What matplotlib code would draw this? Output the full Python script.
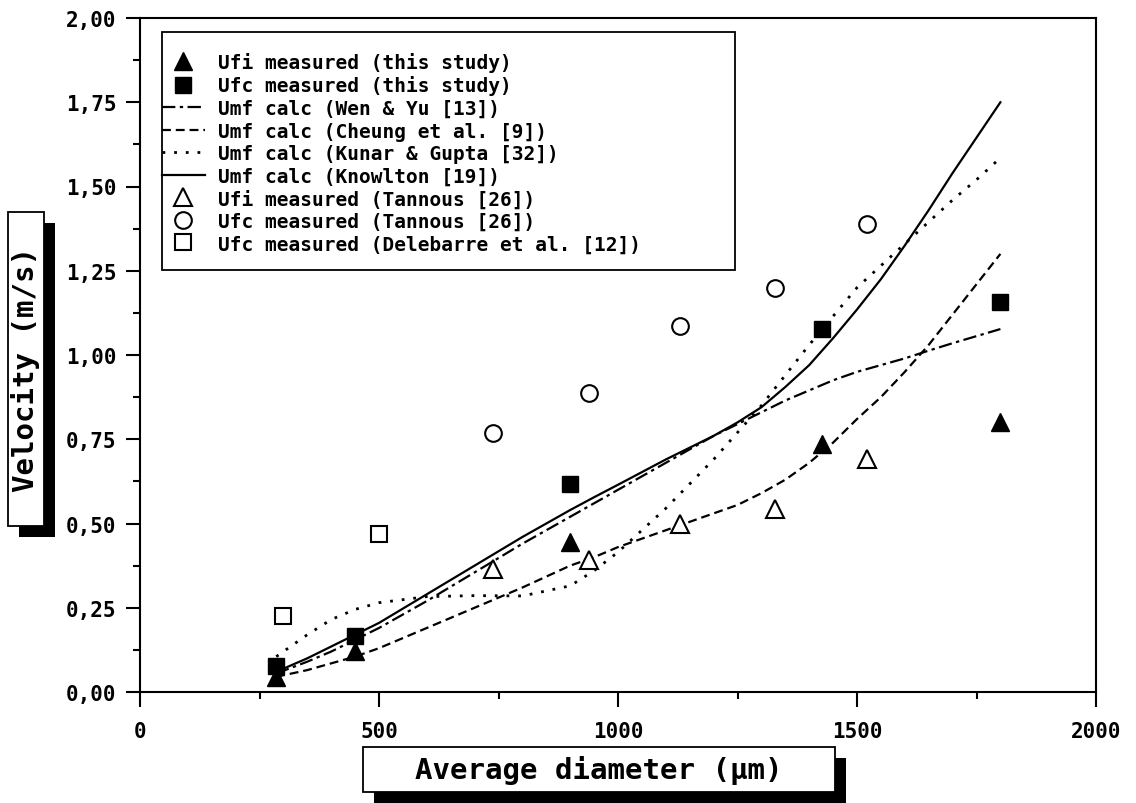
import matplotlib
matplotlib.use("Agg")
import matplotlib.pyplot as plt
from matplotlib.patches import Rectangle
from matplotlib.ticker import MultipleLocator, FuncFormatter

# measured points, this study
d_this = [285, 450, 900, 1427, 1800]
ufi_this = [0.045, 0.122, 0.445, 0.735, 0.80]
ufc_this = [0.077, 0.166, 0.617, 1.077, 1.157]

# Tannous [26]
d_tannous = [738, 940, 1130, 1329, 1520]
ufi_tannous = [0.365, 0.392, 0.50, 0.543, 0.692]
ufc_tannous = [0.768, 0.887, 1.086, 1.199, 1.389]

# Delebarre et al. [12]
d_deleb = [300, 500]
ufc_deleb = [0.227, 0.469]

# calculated Umf curves
d_calc = [285, 350, 400, 450, 500, 600, 700, 800, 900, 950, 1000, 1100,
          1200, 1250, 1300, 1350, 1400, 1450, 1500, 1550, 1600, 1650, 1700, 1750, 1800]
umf_wen_yu = [0.055, 0.09, 0.12, 0.155, 0.19, 0.27, 0.355, 0.44, 0.52, 0.56,
              0.60, 0.68, 0.76, 0.795, 0.83, 0.865, 0.895, 0.925, 0.95, 0.97,
              0.99, 1.013, 1.035, 1.056, 1.077]
umf_cheung = [0.045, 0.065, 0.085, 0.105, 0.13, 0.19, 0.25, 0.31, 0.375, 0.40,
              0.43, 0.48, 0.53, 0.555, 0.59, 0.63, 0.68, 0.74, 0.81, 0.875,
              0.95, 1.03, 1.12, 1.21, 1.30]
umf_kunar = [0.105, 0.17, 0.215, 0.245, 0.265, 0.283, 0.286, 0.285, 0.315, 0.36,
             0.415, 0.545, 0.69, 0.77, 0.85, 0.94, 1.03, 1.115, 1.20, 1.265,
             1.33, 1.395, 1.46, 1.52, 1.585]
umf_knowlton = [0.06, 0.10, 0.135, 0.17, 0.205, 0.29, 0.375, 0.46, 0.54, 0.578,
                0.615, 0.69, 0.76, 0.80, 0.845, 0.905, 0.97, 1.05, 1.135, 1.225,
                1.325, 1.43, 1.54, 1.645, 1.75]

plt.rcParams['font.family'] = 'DejaVu Sans Mono'
plt.rcParams['font.weight'] = 'bold'

W, H = 1136, 804
fig = plt.figure(figsize=(W / 100, H / 100), dpi=100)
ax = fig.add_axes([140/W, 1-693/H, 956/W, 674/H])

lw = 1.6
ax.plot(d_this, ufi_this, '^', color='black', ms=13, label='Ufi measured (this study)')
ax.plot(d_this, ufc_this, 's', color='black', ms=11, label='Ufc measured (this study)')
ax.plot(d_calc, umf_wen_yu, color='black', lw=lw, ls=(0, (6, 2, 1.5, 2)),
        label='Umf calc (Wen & Yu [13])')
ax.plot(d_calc, umf_cheung, color='black', lw=lw, ls=(0, (4, 2.2)),
        label='Umf calc (Cheung et al. [9])')
ax.plot(d_calc, umf_kunar, color='black', lw=lw + 0.4, ls=(0, (1, 3.2)),
        label='Umf calc (Kunar & Gupta [32])')
ax.plot(d_calc, umf_knowlton, color='black', lw=lw, ls='-',
        label='Umf calc (Knowlton [19])')
ax.plot(d_tannous, ufi_tannous, '^', mfc='white', mec='black', mew=1.5, ms=13,
        label='Ufi measured (Tannous [26])')
ax.plot(d_tannous, ufc_tannous, 'o', mfc='white', mec='black', mew=1.5, ms=12,
        label='Ufc measured (Tannous [26])')
ax.plot(d_deleb, ufc_deleb, 's', mfc='white', mec='black', mew=1.5, ms=11,
        label='Ufc measured (Delebarre et al. [12])')

ax.set_xlim(0, 2000)
ax.set_ylim(0, 2.0)
ax.xaxis.set_major_locator(MultipleLocator(500))
ax.xaxis.set_minor_locator(MultipleLocator(250))
ax.yaxis.set_major_locator(MultipleLocator(0.25))
ax.yaxis.set_minor_locator(MultipleLocator(0.125))
ax.yaxis.set_major_formatter(FuncFormatter(lambda v, p: f"{v:.2f}".replace('.', ',')))
ax.xaxis.set_major_formatter(FuncFormatter(lambda v, p: f"{v:.0f}"))
ax.tick_params(which='both', direction='out', width=1.5, labelsize=15)
ax.tick_params(axis='y', which='major', length=10, pad=7)
ax.tick_params(axis='x', which='major', length=11, pad=10)
ax.tick_params(which='minor', length=5)
for s in ax.spines.values():
    s.set_linewidth(1.5)

# legend with square frame
ax.add_patch(Rectangle(((162-140)/956, (693-271)/674), (735-162)/956, (271-33)/674,
                       transform=ax.transAxes, fill=False, ec='black', lw=1.3, zorder=5))
ax.legend(loc='upper left', bbox_to_anchor=((162-140)/956, (693-53)/674),
          frameon=False, borderpad=0, borderaxespad=0, fontsize=14,
          handlelength=2.2, handletextpad=0.7, labelspacing=0.18, numpoints=1)


def label_box(x0, y0, x1, y1, text, rot):
    # white box with a black drop shadow, pixel coords from the top left
    off = 11
    fig.patches.append(Rectangle((( x0 + off) / W, 1 - (y1 + off) / H), (x1 - x0) / W, (y1 - y0) / H,
                                 transform=fig.transFigure, fc='black', ec='black', lw=0))
    fig.patches.append(Rectangle((x0 / W, 1 - y1 / H), (x1 - x0) / W, (y1 - y0) / H,
                                 transform=fig.transFigure, fc='white', ec='black', lw=1.3))
    fig.text((x0 + x1) / 2 / W, 1 - (y0 + y1) / 2 / H, text, ha='center', va='center',
             rotation=rot, fontsize=21, fontweight='bold')


label_box(363, 748, 835, 793, 'Average diameter (μm)', 0)
label_box(8, 213, 44, 527, 'Velocity (m/s)', 90)

fig.savefig('out.png', dpi=100)
